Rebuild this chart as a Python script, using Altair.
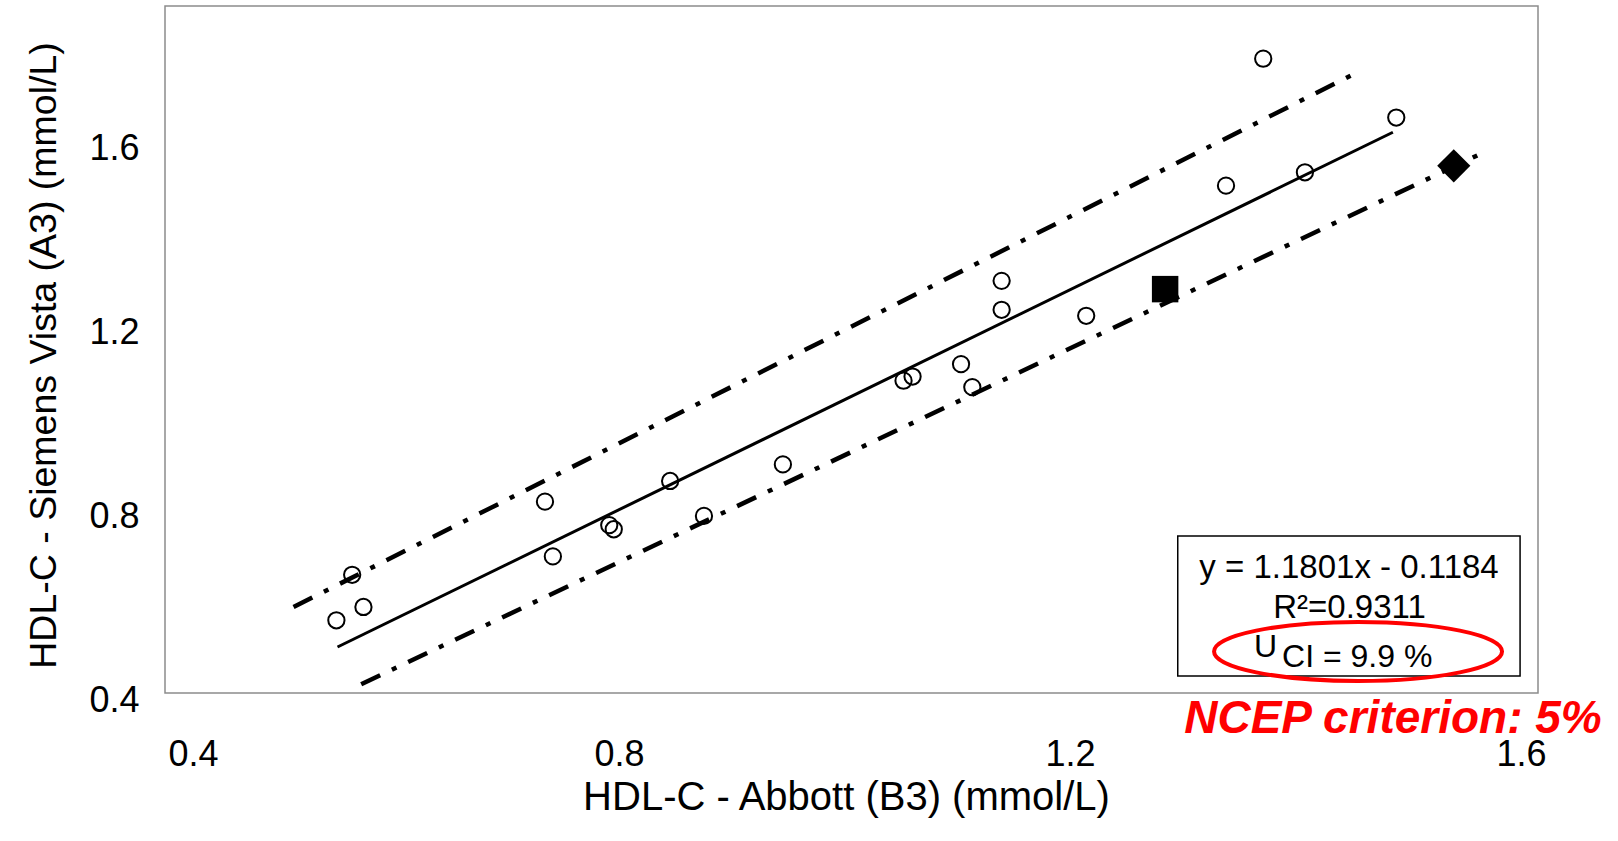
import altair as alt
import pandas as pd

# ---------------- data ----------------
abbott = [0.552, 0.566, 0.576, 0.737, 0.744, 0.794, 0.798, 0.848, 0.878, 0.948,
          1.055, 1.063, 1.106, 1.116, 1.142, 1.142, 1.217, 1.341, 1.374, 1.411, 1.492]
siemens = [0.558, 0.657, 0.587, 0.816, 0.697, 0.765, 0.756, 0.861, 0.785, 0.897,
           1.079, 1.088, 1.115, 1.065, 1.296, 1.233, 1.220, 1.503, 1.779, 1.532, 1.651]

square_x = [1.287]
square_y = [1.278]
diamond_x = [1.543]
diamond_y = [1.546]

fit_x = [0.553, 1.489]
fit_y = [0.500, 1.619]
upper_x = [0.514, 1.458]
upper_y = [0.587, 1.750]
lower_x = [0.574, 1.565]
lower_y = [0.419, 1.570]

x_ticks = [0.4, 0.8, 1.2, 1.6]
y_ticks = [0.4, 0.8, 1.2, 1.6]

eq_text = "y = 1.1801x - 0.1184"
r2_text = "R\u00b2=0.9311"
u_text = "U"
ci_text = "CI = 9.9 %"
ncep_text = "NCEP criterion: 5%"
x_title = "HDL-C - Abbott (B3) (mmol/L)"
y_title = "HDL-C - Siemens Vista (A3) (mmol/L)"

# ---------------- annotation anchors (data units) ----------------
BOX = dict(x=1.2982, x2=1.6018, y=0.7413, y2=0.437)
EQ_POS = (1.4501, 0.650)
R2_POS = (1.4505, 0.563)
U_POS = (1.3863, 0.4783)
CI_POS = (1.3907, 0.4565)
ELL_POS = (1.4581, 0.4902)
NCEP_POS = (1.4891, 0.3130)

FONT = "Liberation Sans"

xs = alt.Scale(domain=[0.4, 1.6177], nice=False, zero=False)
ys = alt.Scale(domain=[0.4, 1.8935], nice=False, zero=False)

x_axis = alt.Axis(values=x_ticks, format=".1f", grid=False, domain=False, ticks=False,
                  tickSize=0, labelFont=FONT, labelFontSize=36, labelColor="black",
                  labelBaseline="alphabetic", labelPadding=72, labelOffset=3,
                  title=x_title, titleFont=FONT, titleFontSize=40,
                  titleFontWeight="normal", titleColor="black",
                  titleX=681, titleY=116, titleAlign="center", titleBaseline="alphabetic")
y_axis = alt.Axis(values=y_ticks, format=".1f", grid=False, domain=False, ticks=False,
                  tickSize=0, labelFont=FONT, labelFontSize=36, labelColor="black",
                  labelBaseline="alphabetic", labelPadding=26, labelOffset=18,
                  title=y_title, titleFont=FONT, titleFontSize=37.5,
                  titleFontWeight="normal", titleColor="black", titleAngle=270,
                  titleX=-110, titleY=349, titleAlign="center", titleBaseline="alphabetic")


def X():
    return alt.X("x:Q", scale=xs, axis=x_axis)


def Y():
    return alt.Y("y:Q", scale=ys, axis=y_axis)


def line_layer(xv, yv, width, dash=None):
    df = pd.DataFrame({"x": xv, "y": yv})
    kw = dict(color="black", strokeWidth=width, strokeCap="butt")
    if dash:
        kw["strokeDash"] = dash
    return alt.Chart(df).mark_line(**kw).encode(x=X(), y=Y())


fit = line_layer(fit_x, fit_y, 3)
upper = line_layer(upper_x, upper_y, 4.5, [21, 13, 5, 13])
lower = line_layer(lower_x, lower_y, 4.5, [21, 13, 5, 13])

pts = alt.Chart(pd.DataFrame({"x": abbott, "y": siemens})).mark_point(
    shape="circle", size=265, filled=False, stroke="black", strokeWidth=2, opacity=1
).encode(x=X(), y=Y())

sq = alt.Chart(pd.DataFrame({"x": square_x, "y": square_y})).mark_point(
    shape="square", size=700, filled=True, color="black", opacity=1
).encode(x=X(), y=Y())

dm = alt.Chart(pd.DataFrame({"x": diamond_x, "y": diamond_y})).mark_point(
    shape="diamond", size=1100, filled=True, color="black", opacity=1
).encode(x=X(), y=Y())

box = alt.Chart(pd.DataFrame({"x": [BOX["x"]], "x2": [BOX["x2"]],
                              "y": [BOX["y"]], "y2": [BOX["y2"]]})).mark_rect(
    fill="white", stroke="black", strokeWidth=1.5
).encode(x=X(), x2="x2:Q", y=Y(), y2="y2:Q")


def text_layer(pos, txt, size, align="center", weight="normal", style="normal",
               color="black", font=FONT):
    df = pd.DataFrame({"x": [pos[0]], "y": [pos[1]], "t": [txt]})
    return alt.Chart(df).mark_text(
        align=align, baseline="alphabetic", font=font, fontSize=size,
        fontWeight=weight, fontStyle=style, color=color
    ).encode(x=X(), y=Y(), text="t:N")


eq = text_layer(EQ_POS, eq_text, 33)
r2 = text_layer(R2_POS, r2_text, 33)
u = text_layer(U_POS, u_text, 32, align="right")
ci = text_layer(CI_POS, ci_text, 32, align="left")

b = 0.205
k = 0.5523
ell_path = (f"M -1 0 C -1 {-k*b:.4f} {-k:.4f} {-b} 0 {-b} "
            f"C {k:.4f} {-b} 1 {-k*b:.4f} 1 0 "
            f"C 1 {k*b:.4f} {k:.4f} {b} 0 {b} "
            f"C {-k:.4f} {b} -1 {k*b:.4f} -1 0 Z")
ell = alt.Chart(pd.DataFrame({"x": [ELL_POS[0]], "y": [ELL_POS[1]]})).mark_point(
    shape=ell_path, size=82944, filled=False, stroke="#ff0000", strokeWidth=4, opacity=1
).encode(x=X(), y=Y())

ncep = text_layer(NCEP_POS, ncep_text, 46, weight="bold", style="italic", color="#ff0000")

chart = alt.layer(fit, upper, lower, pts, sq, dm, box, eq, r2, u, ci, ell, ncep).properties(
    width=1373, height=687,
    autosize=alt.AutoSizeParams(type="none"),
    padding={"left": 165, "top": 6, "right": 80, "bottom": 148},
    background="white",
).configure_view(stroke="#8c8c8c", strokeWidth=1.5)

chart.save("out.html", embed_options={"renderer": "svg", "actions": False})
